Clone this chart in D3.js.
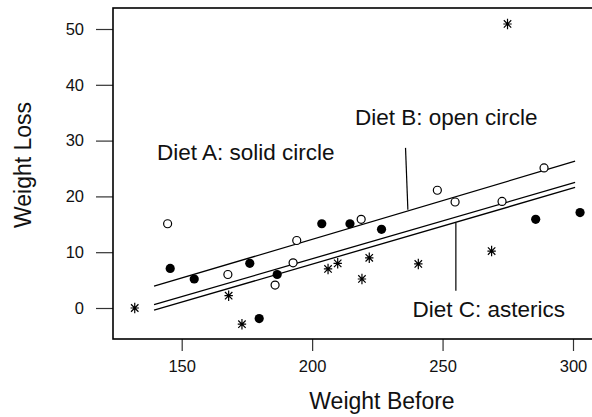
<!DOCTYPE html>
<html>
<head>
<meta charset="utf-8">
<script src="https://cdn.jsdelivr.net/npm/d3@7"></script>
<style>
  body { margin: 0; background: #fff; }
  svg { display: block; font-family: 'Liberation Sans', Arial, sans-serif; }
</style>
</head>
<body>
<svg id="chart"></svg>
<script>
const width = 592;
const height = 417;

// Diet A: solid circles
const dietAX = [145.6, 154.8, 176.1, 186.6, 179.7, 203.7, 214.5, 226.6, 285.7, 302.7];
const dietAY = [7.1, 5.2, 8.0, 6.0, -1.9, 15.1, 15.1, 14.1, 15.9, 17.1];
// Diet B: open circles
const dietBX = [144.6, 167.7, 185.8, 192.7, 194.1, 218.8, 248.0, 254.8, 272.8, 288.9];
const dietBY = [15.1, 6.0, 4.1, 8.1, 12.1, 15.9, 21.1, 19.0, 19.1, 25.1];
// Diet C: asterisks
const dietCX = [132.0, 168.0, 173.1, 206.1, 209.8, 219.1, 221.9, 240.7, 268.8, 274.9];
const dietCY = [0.0, 2.2, -2.9, 7.0, 8.0, 5.2, 9.0, 7.9, 10.2, 50.9];

// fitted lines, start and end of each
const fitX = [139.4, 300.8];
const fitB = [3.9, 26.3];
const fitA = [0.6, 22.5];
const fitC = [-0.4, 21.6];

const xTicks = [150, 200, 250, 300];
const yTicks = [0, 10, 20, 30, 40, 50];

const labels = ['Diet A: solid circle', 'Diet B: open circle', 'Diet C: asterics'];
const labelX = [140.5, 216.4, 238.5];
const labelY = [26.5, 32.8, -1.6];
// pointer lines [x1, y1, x2, y2]
const pointerB = [235.8, 28.7, 236.7, 17.6];
const pointerC = [255.1, 15.3, 255.1, 3.1];

const xScale = d3.scaleLinear().domain([150, 300]).range([181.7, 573]);
const yScale = d3.scaleLinear().domain([0, 50]).range([308, 29]);

const frame = { left: 113, top: 8, right: 600, bottom: 339 };

const chart = d3.select('#chart').attr('width', width).attr('height', height);

/* Left Axis */
const leftAxis = d3.axisLeft(yScale).tickValues(yTicks).tickSize(17).tickPadding(12);
const gy = chart.append('g')
  .attr('transform', `translate(${frame.left}, 0)`)
  .call(leftAxis);
gy.select('.domain').remove();
gy.selectAll('line').attr('stroke', '#333').attr('stroke-width', 1.2);
gy.selectAll('text').attr('font-size', 16.5).attr('fill', '#111').attr('font-family', null);

/* Bottom Axis */
const botAxis = d3.axisBottom(xScale).tickValues(xTicks).tickSize(12).tickPadding(9);
const gx = chart.append('g')
  .attr('transform', `translate(0, ${frame.bottom})`)
  .call(botAxis);
gx.select('.domain').remove();
gx.selectAll('line').attr('stroke', '#333').attr('stroke-width', 1.2);
gx.selectAll('text').attr('font-size', 16.5).attr('fill', '#111').attr('font-family', null);

chart.append('rect')
  .attr('x', frame.left)
  .attr('y', frame.top)
  .attr('width', frame.right - frame.left)
  .attr('height', frame.bottom - frame.top)
  .attr('fill', 'none')
  .attr('stroke', '#000')
  .attr('stroke-width', 1.6);

// axis titles
chart.append('text')
  .attr('x', 382)
  .attr('y', 409)
  .attr('text-anchor', 'middle')
  .attr('font-size', 23)
  .attr('fill', '#111')
  .text('Weight Before');

chart.append('text')
  .attr('transform', 'translate(31, 165) rotate(-90)')
  .attr('text-anchor', 'middle')
  .attr('font-size', 23)
  .attr('fill', '#111')
  .text('Weight Loss');

// fitted lines
const line = d3.line().x(d => xScale(d[0])).y(d => yScale(d[1]));
[fitB, fitA, fitC].forEach(fit => {
  chart.append('path')
    .datum(d3.zip(fitX, fit))
    .attr('d', line)
    .attr('fill', 'none')
    .attr('stroke', '#000')
    .attr('stroke-width', 1.3);
});

// pointers
[pointerB, pointerC].forEach(p => {
  chart.append('line')
    .attr('x1', xScale(p[0]))
    .attr('y1', yScale(p[1]))
    .attr('x2', xScale(p[2]))
    .attr('y2', yScale(p[3]))
    .attr('stroke', '#000')
    .attr('stroke-width', 1.2);
});

// labels
chart.selectAll('text.lab')
  .data(labels)
  .enter()
  .append('text')
  .attr('class', 'lab')
  .attr('x', (d, i) => xScale(labelX[i]))
  .attr('y', (d, i) => yScale(labelY[i]))
  .attr('font-size', 22.5)
  .attr('fill', '#111')
  .text(d => d);

// points
chart.selectAll('circle.a')
  .data(d3.zip(dietAX, dietAY))
  .enter()
  .append('circle')
  .attr('class', 'a')
  .attr('cx', d => xScale(d[0]))
  .attr('cy', d => yScale(d[1]))
  .attr('r', 4.6)
  .attr('fill', '#000');

chart.selectAll('circle.b')
  .data(d3.zip(dietBX, dietBY))
  .enter()
  .append('circle')
  .attr('class', 'b')
  .attr('cx', d => xScale(d[0]))
  .attr('cy', d => yScale(d[1]))
  .attr('r', 4)
  .attr('fill', '#fff')
  .attr('stroke', '#000')
  .attr('stroke-width', 1.2);

// eight-armed star
const star = {
  draw(ctx, size) {
    const r = Math.sqrt(size) / 2;
    const q = r * Math.SQRT1_2;
    ctx.moveTo(0, -r); ctx.lineTo(0, r);
    ctx.moveTo(-r * 0.8, 0); ctx.lineTo(r * 0.8, 0);
    ctx.moveTo(-q, -q); ctx.lineTo(q, q);
    ctx.moveTo(-q, q); ctx.lineTo(q, -q);
  }
};

chart.selectAll('path.c')
  .data(d3.zip(dietCX, dietCY))
  .enter()
  .append('path')
  .attr('class', 'c')
  .attr('transform', d => `translate(${xScale(d[0])}, ${yScale(d[1])})`)
  .attr('d', d3.symbol().type(star).size(110))
  .attr('fill', 'none')
  .attr('stroke', '#000')
  .attr('stroke-width', 1.2);
</script>
</body>
</html>
